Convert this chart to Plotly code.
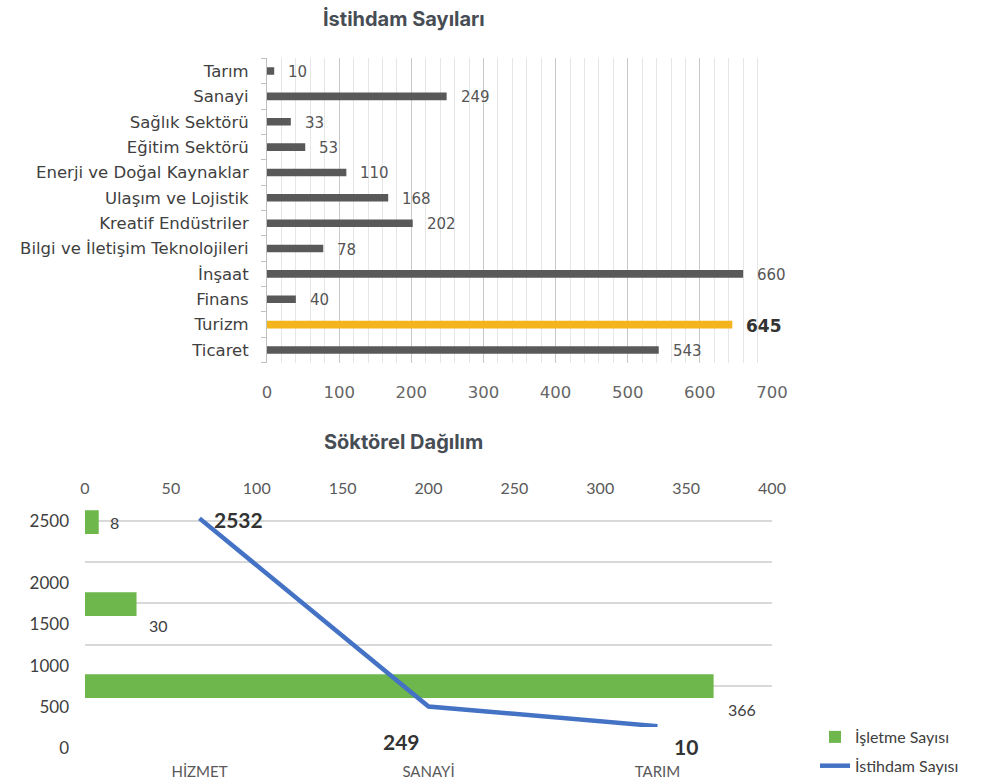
import plotly.graph_objects as go

# ---------------- data ----------------
sectors = ["Ticaret", "Turizm", "Finans", "İnşaat", "Bilgi ve İletişim Teknolojileri",
           "Kreatif Endüstriler", "Ulaşım ve Lojistik", "Enerji ve Doğal Kaynaklar",
           "Eğitim Sektörü", "Sağlık Sektörü", "Sanayi", "Tarım"]
employment = [543, 645, 40, 660, 78, 202, 168, 110, 53, 33, 249, 10]
highlight_sector = "Turizm"
top_ticks = [0, 100, 200, 300, 400, 500, 600, 700]

main_sectors = ["HİZMET", "SANAYİ", "TARIM"]
business_counts = [366, 30, 8]
sector_employment = [2532, 249, 10]
business_ticks = [0, 50, 100, 150, 200, 250, 300, 350, 400]
employment_ticks = [0, 500, 1000, 1500, 2000, 2500]

# ---------------- layout helpers (pixel geometry) ----------------
W, H = 981, 782
def fx(p):
    return p / W
def fy(p):
    return 1 - p / H

GRAY = "#595959"
GOLD = "#F4B41E"
GREEN = "#6EB74C"
BLUE = "#4472C4"
TOPFONT = "DejaVu Sans, Verdana, sans-serif"
BOTFONT = "Lato, Open Sans, sans-serif"
TITLEFONT = "Inter, Noto Sans, sans-serif"

fig = go.Figure()

# top chart bars
fig.add_trace(go.Bar(
    x=employment, y=sectors, orientation="h",
    marker=dict(color=[GOLD if s == highlight_sector else GRAY for s in sectors], line_width=0),
    width=0.3, xaxis="x", yaxis="y", showlegend=False, hoverinfo="x+y"))

# bottom chart bars
fig.add_trace(go.Bar(
    x=business_counts, y=main_sectors, orientation="h",
    marker=dict(color=GREEN, line_width=0), width=0.29,
    xaxis="x2", yaxis="y2", name="İşletme Sayısı", legendgroup="a"))

# bottom chart line
fig.add_trace(go.Scatter(
    x=main_sectors, y=sector_employment, mode="lines",
    line=dict(color=BLUE, width=4.5), xaxis="x3", yaxis="y3",
    name="İstihdam Sayısı", legendgroup="b"))

# empty helper trace so the shifted-label axis is drawn
fig.add_trace(go.Scatter(x=[None], y=[None], xaxis="x3", yaxis="y4",
                         showlegend=False, hoverinfo="skip"))

annotations = []
# top labels
for s, v in zip(sectors, employment):
    hl = s == highlight_sector
    annotations.append(dict(
        x=v, y=s, xref="x", yref="y", xanchor="left", yanchor="middle",
        xshift=12, yshift=-1, showarrow=False,
        text=f"<b>{v}</b>" if hl else str(v),
        font=dict(family=TOPFONT, size=17 if hl else 15, color="#333333" if hl else "#555555")))

# bottom bar labels
bar_label_offsets = [(12, -23), (10, -21), (9, 0)]
for c, v, (dx, dy) in zip(main_sectors, business_counts, bar_label_offsets):
    annotations.append(dict(
        x=v, y=c, xref="x2", yref="y2", xanchor="left", yanchor="middle",
        xshift=dx, yshift=dy, showarrow=False, text=str(v),
        font=dict(family=BOTFONT, size=16, color="#404040")))

# line labels
line_label_style = [("left", 12, -1), ("center", -27, -35), ("center", 28, -20)]
for c, v, (anc, dx, dy) in zip(main_sectors, sector_employment, line_label_style):
    annotations.append(dict(
        x=c, y=v, xref="x3", yref="y3", xanchor=anc, yanchor="middle",
        xshift=dx, yshift=dy, showarrow=False, text=f"<b>{v}</b>",
        font=dict(family=BOTFONT, size=21, color="#333333")))

# titles
annotations.append(dict(x=fx(404), y=fy(19), xref="paper", yref="paper", showarrow=False,
                        text="<b>İstihdam Sayıları</b>", xanchor="center", yanchor="middle",
                        font=dict(family=TITLEFONT, size=20, color="#474d54")))
annotations.append(dict(x=fx(403), y=fy(442), xref="paper", yref="paper", showarrow=False,
                        text="<b>Söktörel Dağılım</b>", xanchor="center", yanchor="middle",
                        font=dict(family=TITLEFONT, size=20, color="#474d54")))

top_dom_x = [fx(267), fx(772)]
top_dom_y = [fy(362.7), fy(58.3)]
bot_dom_x = [fx(85), fx(772)]
bot_dom_y = [fy(727), fy(500)]
emp_range = [0, 2755]

fig.update_layout(
    width=W, height=H, margin=dict(l=0, r=0, t=0, b=0, autoexpand=False),
    paper_bgcolor="white", plot_bgcolor="white",
    annotations=annotations,
    xaxis=dict(domain=top_dom_x, anchor="y", range=[0, 700], tickvals=top_ticks,
               showgrid=True, gridcolor="#c8c8c8", gridwidth=1,
               minor=dict(dtick=20, showgrid=True, gridcolor="#e6e6e6", gridwidth=1),
               zeroline=False, showline=False, ticks="", ticklabelstandoff=18,
               automargin=False,
               tickfont=dict(family=TOPFONT, size=16.5, color="#666666"), fixedrange=True),
    yaxis=dict(domain=top_dom_y, anchor="x", type="category", categoryorder="array",
               categoryarray=sectors, range=[-0.5, 11.5], tickson="boundaries",
               ticks="outside", ticklen=5, tickcolor="#bfbfbf", showline=True,
               linecolor="#bfbfbf", linewidth=1, showgrid=False, ticklabelstandoff=14,
               automargin=False,
               tickfont=dict(family=TOPFONT, size=16.5, color="#404040"), fixedrange=True),
    xaxis2=dict(domain=bot_dom_x, anchor="y2", side="top", range=[0, 400],
                tickvals=business_ticks, showgrid=False, zeroline=False, showline=False,
                ticks="", ticklabelstandoff=2, automargin=False,
                tickfont=dict(family=BOTFONT, size=16, color="#595959"), fixedrange=True),
    yaxis2=dict(domain=bot_dom_y, anchor="x2", type="category", categoryorder="array",
                categoryarray=main_sectors, range=[-0.5, 2.27], visible=False,
                automargin=False, fixedrange=True),
    xaxis3=dict(overlaying="x2", anchor="y3", side="bottom", type="category",
                categoryorder="array", categoryarray=main_sectors, range=[-0.5, 2.5],
                showgrid=False, zeroline=False, showline=False, ticks="",
                ticklabelstandoff=34, automargin=False,
                tickfont=dict(family=BOTFONT, size=15, color="#595959"), fixedrange=True),
    yaxis3=dict(overlaying="y2", anchor="x3", side="left", range=emp_range,
                tickvals=employment_ticks,
                ticktext=["" for _ in employment_ticks[:-1]] + [str(employment_ticks[-1])],
                showgrid=True, gridcolor="#d9d9d9", gridwidth=1.5, zeroline=False,
                showline=False, ticks="", ticklabelstandoff=15, automargin=False,
                tickfont=dict(family=BOTFONT, size=17, color="#404040"), fixedrange=True),
    yaxis4=dict(overlaying="y2", anchor="x3", side="left", range=emp_range,
                tickvals=employment_ticks[:-1],
                ticktext=[str(v) for v in employment_ticks[:-1]],
                showgrid=False, zeroline=False, showline=False, ticks="",
                ticklabelshift=21, ticklabelstandoff=15, automargin=False,
                tickfont=dict(family=BOTFONT, size=17, color="#404040"), fixedrange=True),
    legend=dict(x=fx(815), y=fy(720), xanchor="left", yanchor="top",
                font=dict(family=BOTFONT, size=16, color="#404040"),
                tracegroupgap=5, bgcolor="rgba(0,0,0,0)"),
    showlegend=True, bargap=0.7,
)

fig.write_html("out.html", config={"displayModeBar": False},
               post_script="document.body.style.margin='0px';document.body.style.overflow='hidden';")
